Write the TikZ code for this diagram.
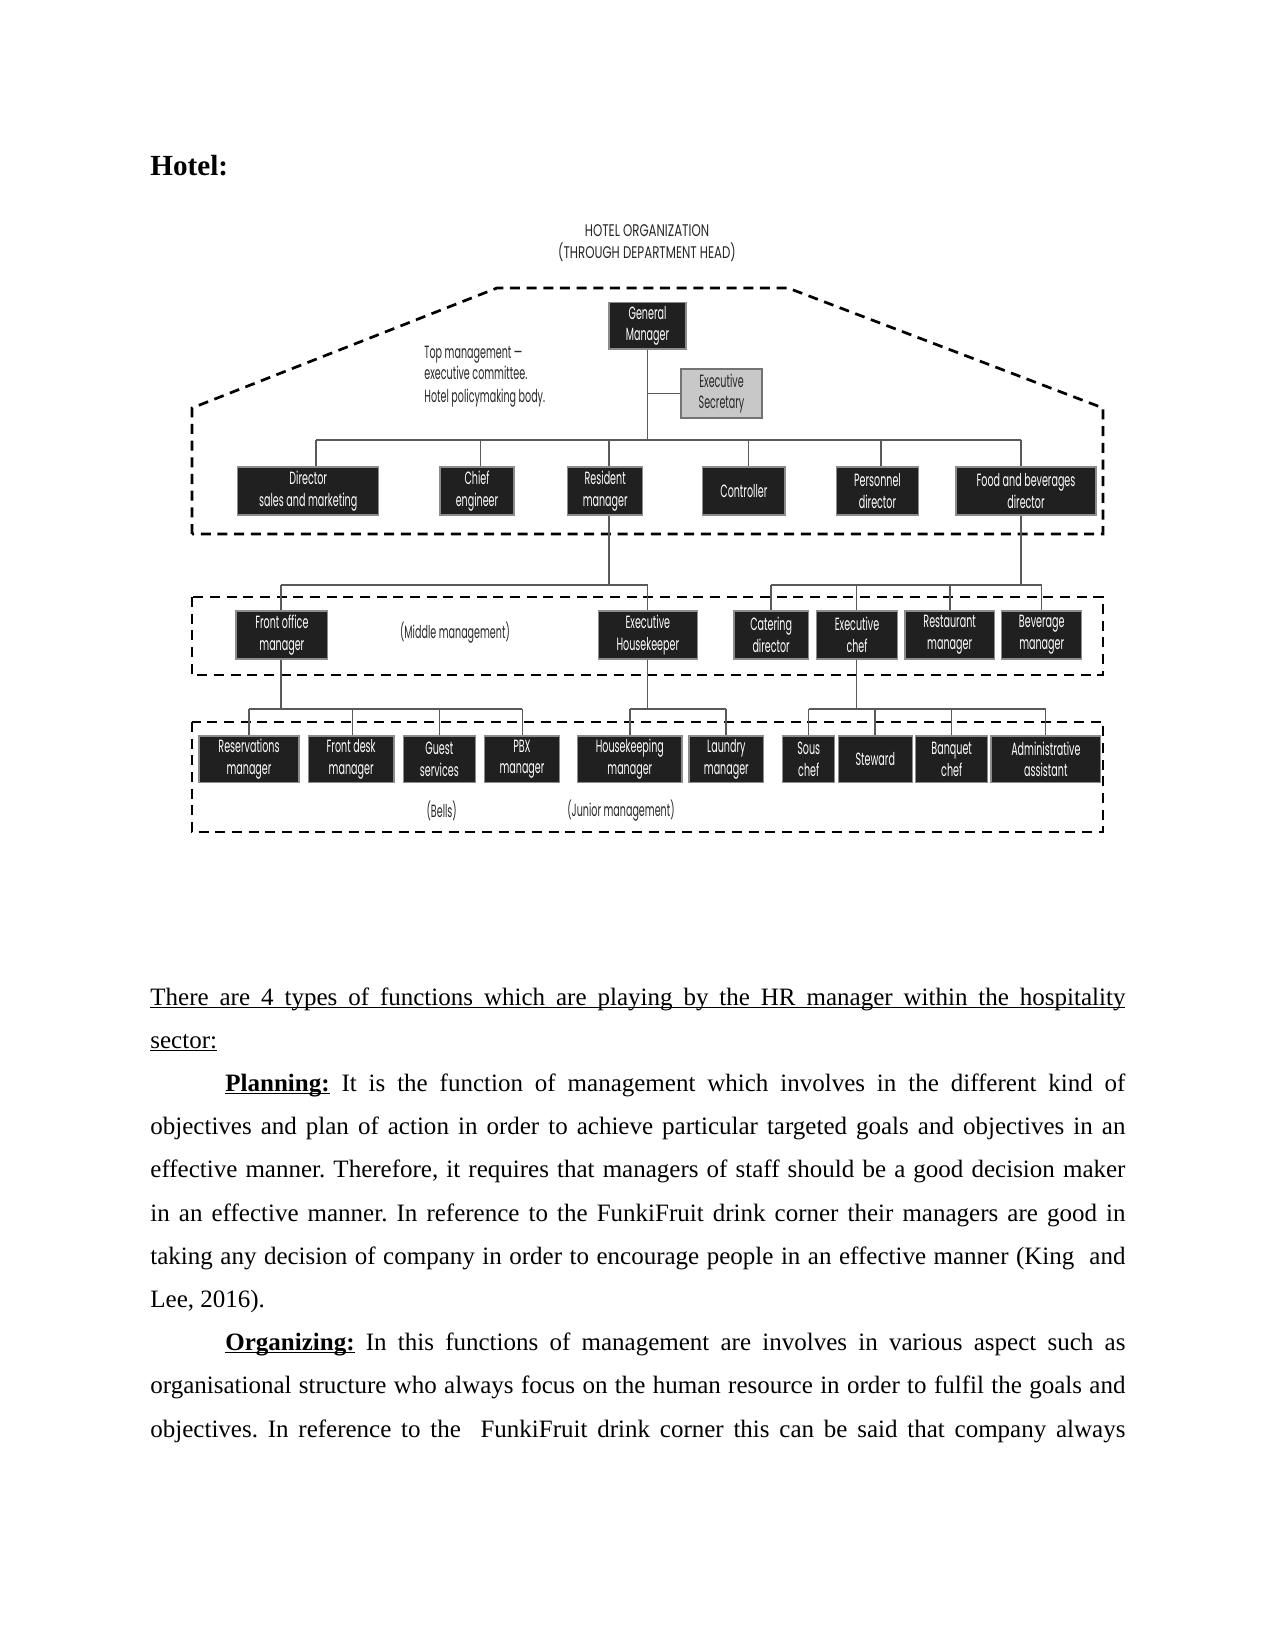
\documentclass[tikz,border=0pt]{standalone}
\usepackage{fontspec}
\setmainfont{Liberation Serif}
\newfontfamily\diagfont[FakeStretch=0.54]{Poppins}
\newfontfamily\titlefont[FakeStretch=0.7]{Poppins}
\definecolor{boxfill}{HTML}{202020}
\definecolor{secfill}{HTML}{C8C8C8}
\newcommand\boxfont{\diagfont\fontsize{8.5}{10.4}\selectfont}
\newcommand\ulx[1]{\setbox0=\hbox{#1}\rlap{\rule[-1.3pt]{\wd0}{0.55pt}}\box0\relax}
\newcommand\mkbox[6]{\node[#1, minimum width={(#4-#2)*0.48pt}, minimum height={(#5-#3)*0.48pt}] (#6) at ({(#2+#4)/2},{(#3+#5)/2})}
\tikzset{
  box/.style={draw=black!45, line width=0.6pt, fill=boxfill, text=white, inner sep=0pt, align=center, font=\boxfont},
  secbox/.style={box, fill=secfill, text=black!85, draw=black!55},
  conn/.style={draw=black!65, line width=0.7pt},
  zone/.style={draw=black, line width=1.3pt, dash pattern=on 4.8pt off 3.2pt},
  lbl/.style={font=\boxfont, inner sep=0pt, text=black!85},
  ttl/.style={font=\titlefont\fontsize{8.1}{10}\selectfont, inner sep=0pt, text=black!85, anchor=base},
  body/.style={inner sep=0pt, anchor=base west, font=\fontsize{12}{14}\selectfont},
}
\begin{document}
\frenchspacing
\begin{tikzpicture}[x=0.48pt, y=-0.48pt]
\useasboundingbox (0,0) rectangle (1275,1650);

% heading
\node[inner sep=0pt, anchor=base west, font=\fontsize{14}{16}\selectfont\bfseries] (hotel) at (150,176) {Hotel:};

% title
\node[ttl] (t1) at (647,236.7) {HOTEL ORGANIZATION};
\node[ttl] (t2) at (647,258.3) {(THROUGH DEPARTMENT HEAD)};

% dashed zones
\draw[zone] (192,534) -- (192,408) -- (497,288) -- (788,288) -- (1103,408) -- (1103,534) -- cycle;
\draw[zone] (192,597) rectangle (1103,675);
\draw[zone] (192,722) rectangle (1103,832);

% zone labels
\node[lbl, anchor=base west] (tm1) at (424,358.3) {Top management —};
\node[lbl, anchor=base west] (tm2) at (424,380) {executive committee.};
\node[lbl, anchor=base west] (tm3) at (424,402.3) {Hotel policymaking body.};
\node[lbl] (midm) at (455,632.7) {(Middle management)};
\node[lbl] (bells) at (441.7,811) {(Bells)};
\node[lbl] (junm) at (621,811) {(Junior management)};

% top boxes
\mkbox{box}{609}{302.7}{686}{349}{gm} {General\\Manager};
\mkbox{secbox}{681}{369}{762}{418}{es} {Executive\\Secretary};
\mkbox{box}{237.7}{467}{378.7}{515}{dsm} {Director\\sales and marketing};
\mkbox{box}{440}{467}{514}{515}{ce} {Chief\\engineer};
\mkbox{box}{567.7}{467}{642.7}{515}{rm} {Resident\\manager};
\mkbox{box}{702.7}{467}{785}{515}{ctl} {Controller};
\mkbox{box}{836.7}{467}{918.3}{515}{pd} {Personnel\\director};
\mkbox{box}{956}{467}{1096}{515}{fbd} {Food and beverages\\director};

% middle boxes
\mkbox{box}{236}{611}{327.7}{659}{fom} {Front office\\manager};
\mkbox{box}{598.3}{611}{697.3}{659}{eh} {Executive\\Housekeeper};
\mkbox{box}{734}{611}{808.3}{659}{cd} {Catering\\director};
\mkbox{box}{816.7}{611}{897.3}{659}{ec} {Executive\\chef};
\mkbox{box}{905}{611}{994.3}{659}{rsm} {Restaurant\\manager};
\mkbox{box}{1001.7}{611}{1081.7}{659}{bm} {Beverage\\manager};

% bottom boxes
\mkbox{box}{199}{736}{299}{782.7}{rvm} {Reservations\\manager};
\mkbox{box}{308.3}{736}{394}{782.7}{fdm} {Front desk\\manager};
\mkbox{box}{403.3}{736}{475.3}{782.7}{gs} {Guest\\services};
\mkbox{box}{484.7}{736}{559.3}{782.7}{pbx} {PBX\\manager};
\mkbox{box}{577.7}{736}{682}{782.7}{hkm} {Housekeeping\\manager};
\mkbox{box}{689}{736}{763.7}{782.7}{lm} {Laundry\\manager};
\mkbox{box}{782.7}{736}{834.7}{782.7}{sc} {Sous\\chef};
\mkbox{box}{838.3}{736}{912.3}{782.7}{st} {Steward};
\mkbox{box}{915.7}{736}{987.7}{782.7}{bc} {Banquet\\chef};
\mkbox{box}{991}{736}{1100.7}{782.7}{aa} {Administrative\\assistant};

% bus tap points
\coordinate (T1) at (316,440);
\coordinate (T2) at (480.7,440);
\coordinate (T3) at (609,440);
\coordinate (T4) at (748.3,440);
\coordinate (T5) at (881,440);
\coordinate (T6) at (1021,440);
\coordinate (M0) at (609,585);
\coordinate (M1) at (281,585);
\coordinate (M2) at (647.7,585);
\coordinate (N0) at (1021,585);
\coordinate (N1) at (771,585);
\coordinate (N2) at (856.7,585);
\coordinate (N3) at (950,585);
\coordinate (N4) at (1041.7,585);
\coordinate (A0) at (281,709);
\coordinate (A1) at (249,709);
\coordinate (A2) at (352.3,709);
\coordinate (A3) at (439.3,709);
\coordinate (A4) at (522.3,709);
\coordinate (B0) at (647.7,709);
\coordinate (B1) at (630,709);
\coordinate (B2) at (726,709);
\coordinate (C0) at (856.7,709);
\coordinate (C1) at (808.7,709);
\coordinate (C2) at (875,709);
\coordinate (C3) at (951.7,709);
\coordinate (C4) at (1045.7,709);

% connectors: top level
\draw[conn] (gm.south) -- (gm.south |- T1);
\draw[conn] (gm.south |- es.west) -- (es.west);
\draw[conn] (T1) -- (T6);
\foreach \t/\n in {T1/dsm, T2/ce, T3/rm, T4/ctl, T5/pd, T6/fbd}
  \draw[conn] (\t) -- (\t |- \n.north);

% connectors: middle level
\draw[conn] (M0 |- rm.south) -- (M0);
\draw[conn] (M1) -- (M2);
\draw[conn] (M1) -- (M1 |- fom.north);
\draw[conn] (M2) -- (M2 |- eh.north);
\draw[conn] (N0 |- fbd.south) -- (N0);
\draw[conn] (N1) -- (N4);
\foreach \t/\n in {N1/cd, N2/ec, N3/rsm, N4/bm}
  \draw[conn] (\t) -- (\t |- \n.north);

% connectors: junior level
\draw[conn] (A0 |- fom.south) -- (A0);
\draw[conn] (A1) -- (A4);
\foreach \t/\n in {A1/rvm, A2/fdm, A3/gs, A4/pbx}
  \draw[conn] (\t) -- (\t |- \n.north);
\draw[conn] (B0 |- eh.south) -- (B0);
\draw[conn] (B1) -- (B2);
\foreach \t/\n in {B1/hkm, B2/lm}
  \draw[conn] (\t) -- (\t |- \n.north);
\draw[conn] (C0 |- ec.south) -- (C0);
\draw[conn] (C1) -- (C4);
\foreach \t/\n in {C1/sc, C2/st, C3/bc, C4/aa}
  \draw[conn] (\t) -- (\t |- \n.north);

% body text
\node[body] (p1) at (150,1005) {\ulx{\makebox[468pt][s]{There are 4 types of functions which are playing by the HR manager within the hospitality}}};
\node[body] (p2) at (150,1048.2) {\ulx{sector:}};
\node[body] (p3) at (225,1091.4) {\makebox[432pt][s]{\ulx{\textbf{Planning:}} It is the function of management which involves in the different kind of}};
\node[body] (p4) at (150,1134.6) {\makebox[468pt][s]{objectives and plan of action in order to achieve particular targeted goals and objectives in an}};
\node[body] (p5) at (150,1177.8) {\makebox[468pt][s]{effective manner. Therefore, it requires that managers of staff should be a good decision maker}};
\node[body] (p6) at (150,1221) {\makebox[468pt][s]{in an effective manner. In reference to the FunkiFruit drink corner their managers are good in}};
\node[body] (p7) at (150,1264.2) {\makebox[468pt][s]{taking any decision of company in order to encourage people in an effective manner (King\ \ and}};
\node[body] (p8) at (150,1307.4) {Lee, 2016).};
\node[body] (p9) at (225,1350.6) {\makebox[432pt][s]{\ulx{\textbf{Organizing:}} In this functions of management are involves in various aspect such as}};
\node[body] (p10) at (150,1393.8) {\makebox[468pt][s]{organisational structure who always focus on the human resource in order to fulfil the goals and}};
\node[body] (p11) at (150,1437) {\makebox[468pt][s]{objectives. In reference to the\ \ FunkiFruit drink corner this can be said that company always}};
\end{tikzpicture}
\end{document}
